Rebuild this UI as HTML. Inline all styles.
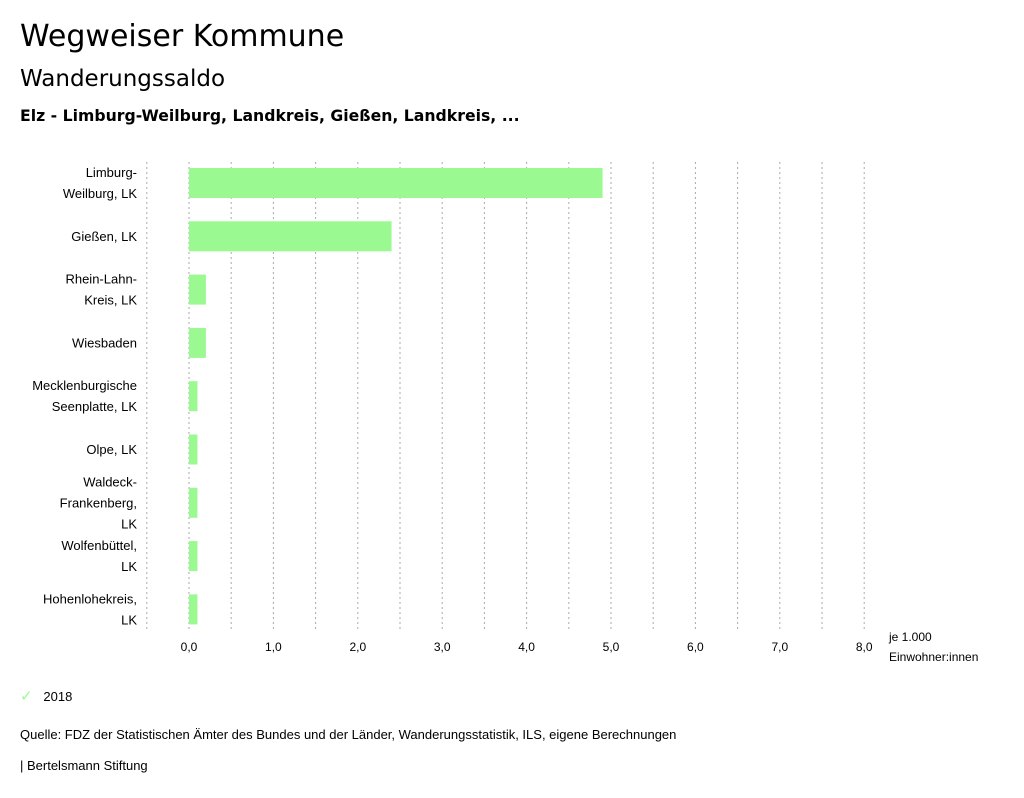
<!DOCTYPE html>
<html><head><meta charset="utf-8"><style>
body{margin:0;background:#fff;font-family:"Liberation Sans","DejaVu Sans",sans-serif;color:#000;}
#wrap{position:relative;width:1024px;height:798px;overflow:hidden}
.t{position:absolute;white-space:nowrap}
</style></head><body><div id="wrap">
<div class="t" style="left:20px;top:19px;font-size:30px;font-family:'DejaVu Sans',sans-serif">Wegweiser Kommune</div>
<div class="t" style="left:20px;top:66px;font-size:23px;font-family:'DejaVu Sans',sans-serif">Wanderungssaldo</div>
<div class="t" style="left:20px;top:106px;font-size:15.7px;font-weight:bold;font-family:'DejaVu Sans',sans-serif">Elz - Limburg-Weilburg, Landkreis, Gießen, Landkreis, ...</div>
<svg id="chart" width="1024" height="798" style="position:absolute;left:0;top:0"></svg>
<div class="t" style="left:20px;top:687px;font-size:13px"><span style="color:#9afa91;font-size:15px">✓</span>&nbsp;&nbsp;&nbsp;2018</div>
<div class="t" style="left:20px;top:727px;font-size:13px">Quelle: FDZ der Statistischen Ämter des Bundes und der Länder, Wanderungsstatistik, ILS, eigene Berechnungen</div>
<div class="t" style="left:20px;top:758px;font-size:13px">| Bertelsmann Stiftung</div>
</div>
<script>
const categories=[["Limburg-","Weilburg, LK"],["Gießen, LK"],["Rhein-Lahn-","Kreis, LK"],["Wiesbaden"],["Mecklenburgische","Seenplatte, LK"],["Olpe, LK"],["Waldeck-","Frankenberg,","LK"],["Wolfenbüttel,","LK"],["Hohenlohekreis,","LK"]];
const values=[4.9,2.4,0.2,0.2,0.1,0.1,0.1,0.1,0.1];
const tickValues=[0,1,2,3,4,5,6,7,8];
const tickLabels=["0,0","1,0","2,0","3,0","4,0","5,0","6,0","7,0","8,0"];
const svg=document.getElementById('chart');const NS='http://www.w3.org/2000/svg';
const x=v=>189+v*84.4;const yc=i=>183+i*53.3;
function mk(t,a){const e=document.createElementNS(NS,t);for(const k in a)e.setAttribute(k,a[k]);svg.appendChild(e);return e;}
for(let g=-0.5;g<=8.001;g+=0.5){const l=mk('line',{x1:x(g),x2:x(g),y1:162,y2:632,stroke:'#aaa','stroke-dasharray':'2,3','stroke-width':1});

}
values.forEach((v,i)=>{const r=mk('rect',{x:x(0),y:yc(i)-15,width:x(v)-x(0),height:30,fill:'#9afa91'});


const lines=categories[i];const n=lines.length;
lines.forEach((s,j)=>{const t=mk('text',{x:137,y:yc(i)+(j-(n-1)/2)*21+4.5,'text-anchor':'end','font-size':13,'font-family':'Liberation Sans,sans-serif'});t.textContent=s;

});});
tickValues.forEach((v,i)=>{const t=mk('text',{x:x(v),y:651,'text-anchor':'middle','font-size':12,'font-family':'Liberation Sans,sans-serif'});t.textContent=tickLabels[i];

});
[["je 1.000",641],["Einwohner:innen",661]].forEach(([s,y])=>{const t=mk('text',{x:889,y:y,'font-size':12,'font-family':'Liberation Sans,sans-serif'});t.textContent=s;

});
</script></body></html>
